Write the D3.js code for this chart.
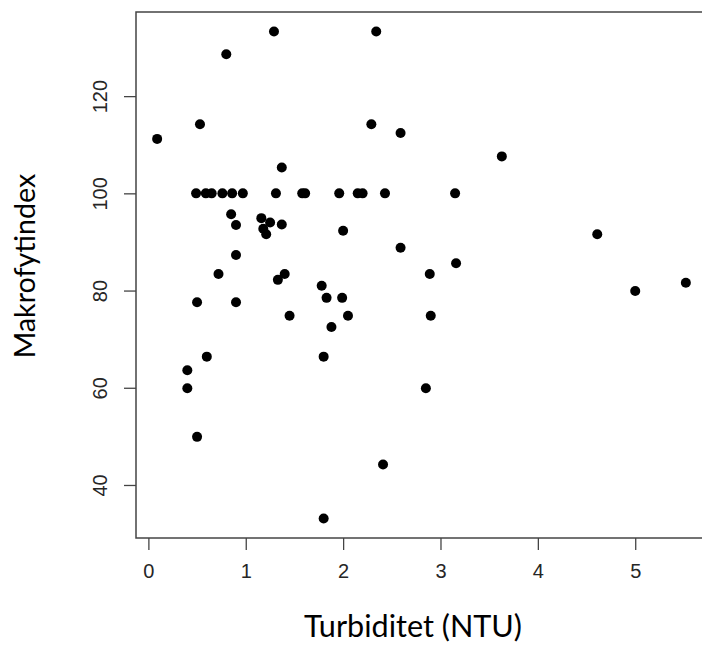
<!DOCTYPE html>
<html lang="en">
<head>
    <meta charset="UTF-8">
    <title>Makrofytindex vs Turbiditet</title>
    <style>
        body { margin: 0; background: #fff; }
    </style>
</head>
<body>
<div id="chart"></div>
<script src="https://cdn.jsdelivr.net/npm/d3@7"></script>
<script>
    // turbiditet (NTU) and makrofytindex
    const turbidity = [
        0.09, 0.53, 0.80, 1.29, 2.34, 2.29, 2.59, 1.37, 3.63,
        0.49, 0.59, 0.65, 0.76, 0.86, 0.97, 1.31, 1.58, 1.61, 1.96, 2.15, 2.20, 2.43, 3.15,
        0.85, 0.90, 1.16, 1.25, 1.18, 1.21, 1.37, 2.00, 0.90, 2.59, 4.61, 3.16,
        0.72, 1.40, 1.33, 2.89, 0.50, 0.90, 1.45, 1.78, 1.83, 1.99, 2.05, 1.88,
        1.80, 0.60, 0.40, 0.40, 0.50, 2.41, 1.80, 2.90, 2.85, 5.00, 5.52
    ];
    const macrophyteIndex = [
        111.2, 114.2, 128.6, 133.3, 133.3, 114.2, 112.4, 105.3, 107.6,
        100, 100, 100, 100, 100, 100, 100, 100, 100, 100, 100, 100, 100, 100,
        95.7, 93.5, 94.9, 94.0, 92.7, 91.6, 93.6, 92.3, 87.3, 88.8, 91.6, 85.6,
        83.4, 83.4, 82.2, 83.4, 77.6, 77.6, 74.8, 81.0, 78.5, 78.5, 74.8, 72.5,
        66.4, 66.4, 63.6, 59.9, 49.9, 44.2, 33.1, 74.8, 59.9, 79.9, 81.6
    ];
    const xTicks = [0, 1, 2, 3, 4, 5];
    const yTicks = [40, 60, 80, 100, 120];

    const width = 702, height = 648;
    const plot = {"left": 136, "right": 707, "top": 12, "bottom": 538};

    const data = turbidity.map((x, i) => ({"x": x, "y": macrophyteIndex[i]}));

    // R style limits: data range stretched by 4% each side
    const xExt = d3.extent(turbidity), yExt = d3.extent(macrophyteIndex);
    const xPad = (xExt[1] - xExt[0]) * 0.04, yPad = (yExt[1] - yExt[0]) * 0.04;

    const xScale = d3.scaleLinear()
        .domain([xExt[0] - xPad, xExt[1] + xPad])
        .range([plot.left, plot.right]);
    const yScale = d3.scaleLinear()
        .domain([yExt[0] - yPad, yExt[1] + yPad])
        .range([plot.bottom, plot.top]);

    const svg = d3.select("#chart")
        .append("svg")
        .attr("width", width)
        .attr("height", height);

    const tickFont = "'Liberation Sans', Arial, sans-serif";
    const titleFont = "Lato, 'Open Sans', sans-serif";

    // x axis
    const xAxis = svg.append("g")
        .attr("transform", `translate(0,${plot.bottom})`)
        .call(d3.axisBottom(xScale).tickValues(xTicks).tickSize(12).tickPadding(14).tickFormat(d3.format("d")));
    xAxis.select(".domain").remove();
    xAxis.selectAll("line").attr("stroke", "#444").attr("stroke-width", 1.3);
    xAxis.selectAll("text")
        .style("font-family", tickFont)
        .style("font-size", "20px")
        .attr("fill", "#262626");

    // y axis, labels parallel to the axis
    const yAxis = svg.append("g")
        .attr("transform", `translate(${plot.left},0)`)
        .call(d3.axisLeft(yScale).tickValues(yTicks).tickSize(12).tickFormat(d3.format("d")));
    yAxis.select(".domain").remove();
    yAxis.selectAll("line").attr("stroke", "#444").attr("stroke-width", 1.3);
    yAxis.selectAll("text")
        .attr("x", null)
        .attr("dy", null)
        .attr("text-anchor", "middle")
        .attr("transform", "translate(-29,0) rotate(-90)")
        .style("font-family", tickFont)
        .style("font-size", "20px")
        .attr("fill", "#262626");

    // plot box
    svg.append("rect")
        .attr("x", plot.left)
        .attr("y", plot.top)
        .attr("width", plot.right - plot.left)
        .attr("height", plot.bottom - plot.top)
        .attr("fill", "none")
        .attr("stroke", "#444")
        .attr("stroke-width", 1.5);

    // points
    svg.append("g")
        .selectAll("circle")
        .data(data)
        .join("circle")
        .attr("cx", d => xScale(d.x))
        .attr("cy", d => yScale(d.y))
        .attr("r", 5)
        .attr("fill", "#000");

    // axis titles, font size fitted to the width they have in the picture
    function fit(sel, target) {
        const w = sel.node().getComputedTextLength();
        sel.style("font-size", (28 * target / w).toFixed(1) + "px");
    }

    const xTitle = svg.append("text")
        .attr("x", 413)
        .attr("y", 637)
        .attr("text-anchor", "middle")
        .style("font-family", titleFont)
        .style("font-size", "28px")
        .attr("fill", "#000")
        .text("Turbiditet (NTU)");
    fit(xTitle, 218);

    const yTitle = svg.append("text")
        .attr("transform", "translate(35,266) rotate(-90)")
        .attr("text-anchor", "middle")
        .style("font-family", titleFont)
        .style("font-size", "28px")
        .attr("fill", "#000")
        .text("Makrofytindex");
    fit(yTitle, 185);
</script>
</body>
</html>
